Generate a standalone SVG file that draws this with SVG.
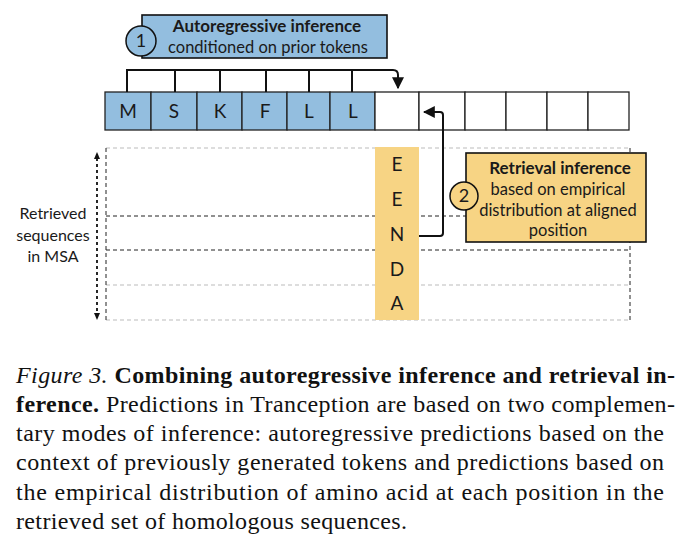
<svg xmlns="http://www.w3.org/2000/svg" width="684" height="546" viewBox="0 0 684 546">
<style>
.sans{font-family:Lato,"Open Sans","Liberation Sans",sans-serif;fill:#1a1a1a}
.cell{stroke:#222;stroke-width:1.3}
.blue{fill:#93bedf}
.white{fill:#fff}
.yellow{fill:#f7d484}
.tok{font-size:19px;text-anchor:middle}
.box{stroke:#111;stroke-width:1.6}
.circ{stroke:#111;stroke-width:1.5}
.cap{font-family:"Liberation Serif","Times New Roman",serif;font-size:24px;fill:#111}
.dk{stroke:#222;stroke-width:1;stroke-dasharray:4 3;fill:none}
.lt{stroke:#bbb;stroke-width:1;stroke-dasharray:4 3;fill:none}
.conn{stroke:#111;stroke-width:2;fill:none}
</style>
<defs>
<marker id="big" viewBox="0 0 10 10" refX="9" refY="5" markerWidth="12" markerHeight="12" markerUnits="userSpaceOnUse" orient="auto">
<path d="M0,0 L10,5 L0,10 z" fill="#111"/>
</marker>
</defs>
<rect width="684" height="546" fill="#fff"/>

<g id="msa-grid">
<line class="lt" x1="106" y1="148" x2="630" y2="148"/>
<line class="dk" x1="106" y1="216" x2="630" y2="216"/>
<line class="dk" x1="106" y1="250" x2="630" y2="250"/>
<line class="lt" x1="106" y1="285" x2="630" y2="285"/>
<line class="lt" x1="106" y1="320" x2="630" y2="320"/>
<line class="dk" x1="106" y1="148" x2="106" y2="320"/>
<line class="dk" x1="630" y1="148" x2="630" y2="320"/>
</g>

<g id="msa-label">
<line x1="97" y1="158" x2="97" y2="314" stroke="#111" stroke-width="1.8" stroke-dasharray="3 3"/>
<path d="M97,152 L94,159 L100,159 z" fill="#111"/>
<path d="M97,320 L94,313 L100,313 z" fill="#111"/>
<text class="sans" font-size="16" text-anchor="middle"><tspan x="53" y="219">Retrieved</tspan><tspan x="53" y="241">sequences</tspan><tspan x="53" y="262">in MSA</tspan></text>
</g>

<g id="sequence">
<rect class="cell blue" x="105" y="92" width="46" height="38"/>
<rect class="cell blue" x="151" y="92" width="46" height="38"/>
<rect class="cell blue" x="197" y="92" width="45" height="38"/>
<rect class="cell blue" x="242" y="92" width="45" height="38"/>
<rect class="cell blue" x="287" y="92" width="43" height="38"/>
<rect class="cell blue" x="330" y="92" width="45" height="38"/>
<rect class="cell white" x="375" y="92" width="44" height="38"/>
<rect class="cell white" x="419" y="92" width="46" height="38"/>
<rect class="cell white" x="465" y="92" width="41" height="38"/>
<rect class="cell white" x="506" y="92" width="41" height="38"/>
<rect class="cell white" x="547" y="92" width="41" height="38"/>
<rect class="cell white" x="588" y="92" width="41" height="38"/>
<g class="sans tok">
<text x="128" y="118">M</text>
<text x="174" y="118">S</text>
<text x="220" y="118">K</text>
<text x="265" y="118">F</text>
<text x="309" y="118">L</text>
<text x="353" y="118">L</text>
</g>
</g>

<g id="retrieved-column">
<rect class="yellow" x="375" y="147" width="44" height="173"/>
<g class="sans tok" font-size="18">
<text x="397" y="171">E</text>
<text x="397" y="206">E</text>
<text x="397" y="241">N</text>
<text x="397" y="276">D</text>
<text x="397" y="310">A</text>
</g>
</g>

<g id="connectors">
<path class="conn" d="M127,92 V70 H393 Q398,70 398,75 V88" marker-end="url(#big)"/>
<line class="conn" x1="175" y1="70" x2="175" y2="92"/>
<line class="conn" x1="220" y1="70" x2="220" y2="92"/>
<line class="conn" x1="266" y1="70" x2="266" y2="92"/>
<line class="conn" x1="309" y1="70" x2="309" y2="92"/>
<line class="conn" x1="352" y1="70" x2="352" y2="92"/>
<path class="conn" d="M419,236 H440 Q443,236 443,233 V115 Q443,112 440,112 H424" marker-end="url(#big)"/>
</g>

<g id="autoregressive-box">
<rect class="box blue" x="142" y="15" width="245" height="43"/>
<circle class="circ blue" cx="141" cy="41" r="15"/>
<text class="sans" x="141" y="47" font-size="18" text-anchor="middle">1</text>
<text class="sans" x="267" y="32" font-size="17" font-weight="bold" text-anchor="middle">Autoregressive inference</text>
<text class="sans" x="268" y="53" font-size="16.5" text-anchor="middle">conditioned on prior tokens</text>
</g>

<g id="retrieval-box">
<rect class="box yellow" x="466" y="153" width="180" height="89"/>
<circle class="circ yellow" cx="464" cy="196" r="14"/>
<text class="sans" x="464" y="202" font-size="18" text-anchor="middle">2</text>
<text class="sans" font-size="16.5" text-anchor="middle"><tspan x="560" y="174" font-weight="bold" font-size="17">Retrieval inference</tspan><tspan x="558" y="195">based on empirical</tspan><tspan x="558" y="216">distribution at aligned</tspan><tspan x="558" y="236">position</tspan></text>
</g>

<g id="caption" class="cap">
<text x="16" y="383" font-family="Liberation Serif, serif" textLength="659" lengthAdjust="spacing"><tspan font-style="italic">Figure 3.</tspan> <tspan font-weight="bold">Combining autoregressive inference and retrieval in-</tspan></text>
<text x="16" y="412" font-family="Liberation Serif, serif" textLength="659" lengthAdjust="spacing"><tspan font-weight="bold">ference.</tspan> Predictions in Tranception are based on two complemen-</text>
<text x="16" y="441" font-family="Liberation Serif, serif" textLength="648" lengthAdjust="spacing">tary modes of inference: autoregressive predictions based on the</text>
<text x="16" y="470" font-family="Liberation Serif, serif" textLength="648" lengthAdjust="spacing">context of previously generated tokens and predictions based on</text>
<text x="16" y="500" font-family="Liberation Serif, serif" textLength="648" lengthAdjust="spacing">the empirical distribution of amino acid at each position in the</text>
<text x="16" y="529" font-family="Liberation Serif, serif" textLength="391" lengthAdjust="spacing">retrieved set of homologous sequences.</text>
</g>
</svg>
